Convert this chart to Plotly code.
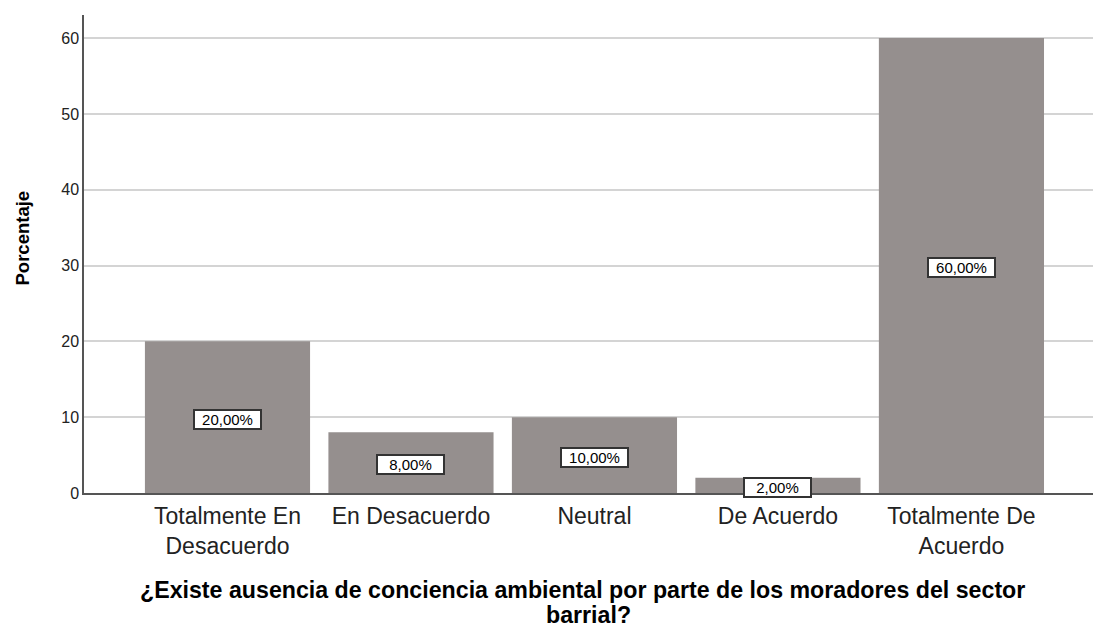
import plotly.graph_objects as go

categories = ["Totalmente En<br>Desacuerdo", "En Desacuerdo", "Neutral",
              "De Acuerdo", "Totalmente De<br>Acuerdo"]
percentages = [20, 8, 10, 2, 60]
y_ticks = [0, 10, 20, 30, 40, 50, 60]
x_title_lines = ["¿Existe ausencia de conciencia ambiental por parte de los moradores del sector",
                 "barrial?"]

FONT = "Liberation Sans, Arial, sans-serif"
bar_color = "#958f8e"

fig = go.Figure()
fig.add_trace(go.Bar(
    x=list(range(len(categories))),
    y=percentages,
    width=0.9,
    marker=dict(color=bar_color, line=dict(width=0)),
    hoverinfo="x+y",
))

# boxed value labels in the middle of each bar
for i, v in enumerate(percentages):
    fig.add_annotation(
        x=i, y=v / 2, yshift=-2, text=f"{v:.2f}%".replace(".", ","),
        showarrow=False, font=dict(family=FONT, size=15, color="black"),
        bgcolor="white", bordercolor="#333333", borderwidth=2, borderpad=1,
        width=63, height=15,
    )

# x axis title, two tightly spaced lines like the SPSS original
for k, line in enumerate(x_title_lines):
    fig.add_annotation(
        x=0.5, xref="paper", y=0, yref="paper", yanchor="middle",
        xshift=-6 if k == 0 else 0, yshift=-97 - 25 * k,
        text=f"<b>{line}</b>", showarrow=False,
        font=dict(family=FONT, size=23.2, color="black"),
    )

# y axis title sits a little above the middle of the axis
fig.add_annotation(
    x=0, xref="paper", y=0.5, yref="paper", xshift=-75, yshift=16,
    text="<b>Porcentaje</b>", textangle=-90, showarrow=False,
    font=dict(family=FONT, size=18.5, color="black"),
)

fig.update_layout(
    width=1093, height=627,
    margin=dict(l=84, r=0, t=15, b=134),
    plot_bgcolor="white", paper_bgcolor="white",
    showlegend=False,
    font=dict(family=FONT, color="black"),
)

fig.update_xaxes(
    range=[-0.782, 4.717],
    tickmode="array", tickvals=list(range(len(categories))), ticktext=categories,
    tickfont=dict(size=23, color="#222222"), ticklabelstandoff=2,
    showgrid=False, zeroline=False,
    showline=True, linecolor="#555555", linewidth=1.5,
)
fig.update_yaxes(
    range=[0, 63.05],
    tickmode="array", tickvals=y_ticks,
    tickfont=dict(size=16, color="#222222"),
    showgrid=True, gridcolor="#d4d4d4", gridwidth=2,
    zeroline=False,
    showline=True, linecolor="#555555", linewidth=1.5,
    ticks="",
)

# drop the default 8px page margin so the figure fills the window exactly
fig.write_html("out.html", config={"displayModeBar": False},
               post_script="document.body.style.margin='0';")
